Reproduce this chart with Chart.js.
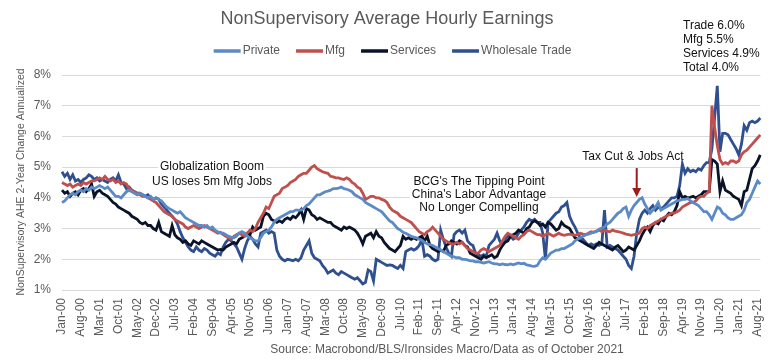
<!DOCTYPE html>
<html>
<head>
<meta charset="utf-8">
<script src="https://cdn.jsdelivr.net/npm/chart.js@4.4.0/dist/chart.umd.min.js"></script>
<style>
  html, body { margin: 0; padding: 0; background: #fff; }
</style>
</head>
<body>
<canvas id="earningsChart" width="772" height="360"></canvas>
<script>
// NonSupervisory AHE, 2-year change annualized (%), monthly Jan-00 .. Sep-21

const monthNames = ['Jan', 'Feb', 'Mar', 'Apr', 'May', 'Jun', 'Jul', 'Aug', 'Sep', 'Oct', 'Nov', 'Dec'];
const monthLabels = [];
for (let yr = 0; yr <= 21; yr++) {
    for (let m = 0; m < 12; m++) {
        if (yr === 21 && m > 8) break;
        monthLabels.push(monthNames[m] + '-' + String(yr).padStart(2, '0'));
    }
}

const seriesNames = ['Private', 'Mfg', 'Services', 'Wholesale Trade'];

const privateVals = [
    3.85, 3.9, 4.0, 4.1, 4.15, 4.1, 4.2, 4.25, 4.2, 4.3, 4.25, 4.35,
    4.3, 4.35, 4.4, 4.35, 4.3, 4.35, 4.25, 4.15, 4.05, 4.05, 4.0, 4.1,
    4.2, 4.25, 4.2, 4.15, 4.1, 4.15, 4.1, 4.05, 4.0, 4.05, 3.95, 4.0,
    3.95, 3.9, 3.8, 3.7, 3.65, 3.6, 3.55, 3.5, 3.55, 3.45, 3.35, 3.3,
    3.25, 3.2, 3.15, 3.1, 3.1, 3.05, 3.1, 3.0, 3.05, 2.95, 2.9, 2.85,
    2.85, 2.8, 2.75, 2.72, 2.7, 2.75, 2.85, 2.9, 2.85, 2.75, 2.7, 2.65,
    2.6, 2.6, 2.7, 2.85, 2.9, 2.95, 3.05, 3.2, 3.3, 3.35, 3.4, 3.45,
    3.5, 3.55, 3.55, 3.6, 3.6, 3.6, 3.65, 3.75, 3.8, 3.9, 4.0, 4.1,
    4.1, 4.15, 4.2, 4.22, 4.25, 4.3, 4.3, 4.32, 4.35, 4.3, 4.28, 4.25,
    4.2, 4.1, 4.05, 4.0, 3.95, 3.85, 3.8, 3.75, 3.7, 3.65, 3.6, 3.55,
    3.45, 3.35, 3.25, 3.2, 3.1, 3.0, 2.95, 2.88, 2.85, 2.8, 2.75, 2.72,
    2.7, 2.65, 2.62, 2.55, 2.5, 2.48, 2.45, 2.4, 2.35, 2.3, 2.25, 2.2,
    2.15, 2.1, 2.08, 2.05, 2.05, 2.0, 2.0, 1.98, 1.95, 1.95, 1.92, 1.92,
    1.9, 1.88, 1.9, 1.92, 1.88, 1.85, 1.85, 1.82, 1.85, 1.83, 1.82, 1.85,
    1.82, 1.85, 1.88, 1.85, 1.87, 1.82, 1.8, 1.78, 1.77, 1.8, 1.95, 2.05,
    2.0, 2.1, 2.2, 2.25, 2.3, 2.3, 2.35, 2.35, 2.4, 2.45, 2.5, 2.6,
    2.65, 2.7, 2.75, 2.8, 2.82, 2.85, 2.88, 2.9, 2.98, 3.02, 3.05, 3.15,
    3.2, 3.3, 3.4, 3.5, 3.55, 3.65, 3.7, 3.4, 3.6, 3.75, 3.85, 3.95,
    4.0, 3.8, 3.65, 3.5, 3.6, 3.7, 3.85, 3.6, 3.65, 3.7, 3.75, 3.8,
    3.85, 3.9, 3.92, 3.95, 3.95, 3.98, 3.9, 3.85, 3.8, 3.75, 3.65, 3.55,
    3.55, 3.45, 3.3, 3.5, 3.7, 3.65, 3.5, 3.45, 3.35, 3.3, 3.3, 3.35,
    3.4, 3.45, 3.6, 3.85, 3.95, 4.15, 4.35, 4.55, 4.45
];

const mfgVals = [
    4.5, 4.45, 4.4, 4.45, 4.35, 4.4, 4.45, 4.4, 4.5, 4.45, 4.5, 4.55,
    4.55, 4.6, 4.65, 4.6, 4.7, 4.6, 4.55, 4.6, 4.5, 4.55, 4.45, 4.5,
    4.45, 4.3, 4.25, 4.2, 4.15, 4.1, 4.05, 4.05, 4.0, 3.95, 3.9, 3.85,
    3.75, 3.65, 3.55, 3.5, 3.45, 3.4, 3.3, 3.25, 3.2, 3.15, 3.05, 3.0,
    3.05, 3.1, 3.05, 3.0, 3.05, 3.1, 3.05, 3.0, 2.95, 2.9, 2.85, 2.88,
    2.8, 2.75, 2.7, 2.65, 2.75, 2.8, 2.85, 2.8, 2.75, 2.85, 2.95, 2.9,
    3.0, 3.2, 3.35, 3.5, 3.7, 3.65, 3.85, 4.05, 4.1, 4.15, 4.3, 4.35,
    4.4, 4.5, 4.55, 4.6, 4.7, 4.75, 4.8, 4.8, 4.9, 5.0, 5.05, 4.95,
    4.9, 4.85, 4.82, 4.8, 4.7, 4.68, 4.65, 4.65, 4.62, 4.6, 4.65, 4.6,
    4.5, 4.45, 4.35, 4.3, 4.15, 3.95, 4.0, 4.05, 4.05, 4.0, 4.0, 3.95,
    3.92, 3.85, 3.7, 3.6, 3.55, 3.5, 3.4, 3.35, 3.3, 3.25, 3.2, 3.1,
    3.0, 2.9, 2.85, 2.8, 2.9, 2.95, 3.05, 2.95, 2.85, 2.75, 2.65, 2.6,
    2.55, 2.5, 2.5, 2.55, 2.5, 2.55, 2.45, 2.35, 2.3, 2.25, 2.2, 2.2,
    2.3, 2.35, 2.3, 2.25, 2.3, 2.35, 2.4, 2.45, 2.6, 2.75, 2.85, 2.8,
    2.75, 2.7, 2.65, 2.75, 2.8, 2.9, 2.95, 2.9, 2.85, 2.8, 2.8, 2.75,
    2.8, 2.85, 2.8, 2.75, 2.8, 2.85, 2.8, 2.78, 2.8, 2.82, 2.8, 2.78,
    2.8, 2.85, 2.82, 2.8, 2.85, 2.9, 2.88, 2.92, 2.95, 2.9, 2.95, 2.92,
    2.9, 2.95, 2.92, 2.9, 2.88, 2.85, 2.82, 2.8, 2.78, 2.8, 2.82, 2.85,
    3.0, 3.05, 3.0, 3.1, 3.15, 3.2, 3.25, 3.3, 3.35, 3.4, 3.45, 3.5,
    3.5, 3.55, 3.6, 3.7, 3.75, 3.8, 3.85, 3.85, 3.9, 4.0, 4.05, 4.05,
    4.15, 4.2, 7.0, 6.3, 5.7, 5.25, 5.1, 5.15, 5.1, 5.2, 5.2, 5.15,
    5.2, 5.4, 5.5, 5.55, 5.65, 5.75, 5.85, 5.95, 6.05
];

const servicesVals = [
    4.25, 4.15, 4.2, 4.05, 4.15, 4.2, 4.1, 4.25, 4.3, 4.2, 4.3, 4.45,
    4.05, 4.2, 4.25, 4.15, 4.1, 4.05, 3.95, 3.85, 3.8, 3.7, 3.65, 3.6,
    3.55, 3.5, 3.4, 3.35, 3.3, 3.2, 3.15, 3.2, 3.1, 3.1, 3.0, 2.95,
    3.2, 2.9, 2.85, 2.8, 2.75, 3.1, 2.8, 2.7, 2.65, 2.55, 2.6, 2.5,
    2.45, 2.6, 2.55, 2.5, 2.6, 2.55, 2.5, 2.45, 2.4, 2.35, 2.3, 2.32,
    2.3, 2.4, 2.45, 2.5, 2.55, 2.5, 2.65, 2.7, 2.75, 2.85, 2.8, 3.05,
    2.95, 3.0, 3.05, 3.4, 3.5, 3.45, 3.3, 3.25, 3.2, 3.25, 3.2, 3.3,
    3.35, 3.3, 3.4, 3.35, 3.45, 3.6, 3.3, 3.65, 3.6, 3.45, 3.4, 3.3,
    3.35, 3.3, 3.25, 3.2, 3.2, 3.1, 3.05, 3.0, 2.95, 3.05, 3.0, 3.05,
    3.0, 2.95, 2.85, 2.7, 2.5, 2.75, 2.8, 2.85, 2.7, 2.9, 2.75, 2.7,
    2.55, 2.45, 2.35, 2.3, 2.25, 2.35, 2.45, 2.75, 2.65, 2.7, 2.65, 2.7,
    2.65, 2.7, 2.75, 2.6, 2.75, 2.45, 2.35, 2.3, 2.25, 2.3, 2.25, 2.45,
    2.5, 2.6, 2.55, 2.5, 2.6, 2.55, 2.45, 2.4, 2.2, 2.15, 2.1, 2.05,
    2.0, 2.1, 2.05, 2.1, 2.15, 2.05, 2.1, 2.3, 2.45, 2.55, 2.6, 2.75,
    2.8, 2.85, 2.95, 2.9, 2.85, 3.0, 3.05, 3.2, 3.25, 3.2, 3.1, 3.15,
    3.05, 3.2, 3.15, 3.05, 2.95, 3.0, 3.2, 3.1, 3.05, 3.0, 2.85, 2.7,
    2.65, 2.6, 2.55, 2.5, 2.45, 2.4, 2.35, 2.45, 2.55, 2.5, 2.45, 2.4,
    2.35, 2.3, 2.4, 2.45, 2.35, 2.25, 2.3, 2.4, 2.35, 2.3, 2.45, 2.6,
    2.8, 2.95, 3.05, 2.9, 3.1, 3.2, 3.15, 3.3, 3.25, 3.4, 3.5, 3.45,
    3.55, 3.75, 4.2, 4.0, 4.05, 4.0, 4.02, 4.05, 4.0, 4.05, 4.1, 4.2,
    4.2, 4.2, 5.25, 5.2, 5.1, 4.2, 4.55, 4.25, 4.2, 4.15, 4.05, 4.0,
    3.95, 3.75, 4.2, 4.25, 4.6, 4.95, 5.05, 5.2, 5.4
];

const wholesaleVals = [
    4.85, 4.7, 4.8, 4.6, 4.75, 4.55, 4.6, 4.5, 4.6, 4.65, 4.75, 4.7,
    4.6, 4.65, 4.55, 4.6, 4.55, 4.5, 4.6, 4.65, 4.55, 4.75, 4.5, 4.45,
    4.3, 4.35, 4.25, 4.2, 4.15, 4.15, 4.1, 4.05, 4.1, 4.0, 3.95, 4.0,
    3.95, 3.8, 3.7, 3.6, 3.5, 3.4, 3.3, 3.15, 2.9, 2.7, 2.55, 2.4,
    2.3, 2.25, 2.4, 2.3, 2.25, 2.35, 2.3, 2.2, 2.15, 2.1, 2.2, 2.15,
    2.4, 2.55, 2.65, 2.6, 2.5, 2.4, 2.2, 2.0, 2.35, 2.6, 2.75, 2.65,
    2.5, 2.4, 2.85, 2.9, 2.95, 2.85, 2.9, 2.85, 2.3, 2.1, 2.0, 1.95,
    2.0, 1.98, 1.95, 2.0, 1.95, 2.05, 2.3, 2.45, 2.6, 2.2, 2.05, 2.0,
    1.95, 1.8, 1.7, 1.55, 1.6, 1.65, 1.55, 1.5, 1.6, 1.55, 1.5, 1.45,
    1.4, 1.35, 1.4, 1.3, 1.2, 1.25, 1.65, 1.6, 1.3, 2.0, 1.95, 1.9,
    1.85, 1.8, 1.82, 1.8, 1.75, 1.7, 1.8, 1.7, 2.25, 2.3, 2.35, 2.3,
    2.35, 2.45, 2.65, 2.1, 2.15, 2.1, 2.0, 1.95, 2.0, 2.95, 2.65, 2.4,
    2.2, 2.1, 2.8, 2.9, 2.95, 2.85, 2.95, 2.6, 2.5, 2.45, 2.2, 2.15,
    2.1, 2.15, 2.1, 2.45, 2.55, 2.65, 2.85, 2.6, 2.45, 2.6, 2.8, 2.75,
    2.65, 2.7, 2.85, 2.95, 3.05, 3.2, 3.3, 3.25, 3.3, 3.2, 3.2, 2.85,
    2.0, 3.2, 3.3, 3.4, 3.5, 3.55, 3.7, 3.75, 3.85, 3.4, 3.2, 3.05,
    2.85, 2.7, 2.65, 2.55, 2.45, 2.5, 2.45, 2.5, 2.45, 2.5, 3.6, 2.4,
    2.45, 2.4, 2.35, 2.3, 2.2, 2.1, 2.0, 1.8, 1.7, 2.1, 2.85, 3.3,
    3.5, 3.6, 3.5, 3.65, 3.75, 3.6, 3.7, 3.65, 3.7, 3.8, 3.9, 4.0,
    4.0, 4.05, 4.4, 5.1, 4.8, 4.95, 4.85, 4.9, 4.85, 4.95, 4.9, 5.05,
    5.15, 5.15, 5.6, 6.6, 7.65, 5.5, 6.1, 6.1, 6.05, 5.9, 5.75, 5.6,
    5.4, 5.75, 6.35, 6.2, 6.45, 6.5, 6.45, 6.5, 6.6
];

const seriesColors = ['#5b8ac6', '#c0504d', '#0b1328', '#2f4f8f'];
const yTicks = [1, 2, 3, 4, 5, 6, 7, 8];

const FONT = '"Liberation Sans", Arial, sans-serif';
const GREY = '#595959';

function drawText(ctx, str, x, y, size, color, align) {
    ctx.font = size + 'px ' + FONT;
    ctx.fillStyle = color;
    ctx.textAlign = align || 'center';
    ctx.textBaseline = 'middle';
    ctx.fillText(str, x, y);
}

// boxed note with white background (hides the gridlines behind it)
function drawNote(ctx, lines, cx, ys) {
    ctx.font = '12px ' + FONT;
    lines.forEach(function(s, k) {
        const w = ctx.measureText(s).width;
        ctx.fillStyle = '#fff';
        ctx.fillRect(cx - w / 2 - 2, ys[k] - 7, w + 4, 14);
    });
    lines.forEach(function(s, k) {
        drawText(ctx, s, cx, ys[k], 12, '#111');
    });
}

const decorPlugin = {
    id: 'decor',
    beforeDatasetsDraw(chart) {
        const ctx = chart.ctx;
        ctx.save();
        drawNote(ctx, ['Globalization Boom', 'US loses 5m Mfg Jobs'], 212, [167, 182]);
        drawNote(ctx, ["BCG's The Tipping Point", "China's Labor Advantage", 'No Longer Compelling'], 479, [182, 195, 208]);
        drawText(ctx, 'Tax Cut & Jobs Act', 633, 157, 12, '#111');
        ctx.restore();
    },
    afterDatasetsDraw(chart) {
        const ctx = chart.ctx;
        const xs = chart.scales.x, ys = chart.scales.y;
        const ax = xs.getPixelForValue(monthLabels.indexOf('Nov-17'));
        const top = ys.getPixelForValue(4.97), tip = ys.getPixelForValue(4.03);
        ctx.save();
        ctx.strokeStyle = '#9c1c1c';
        ctx.fillStyle = '#9c1c1c';
        ctx.lineWidth = 2;
        ctx.beginPath();
        ctx.moveTo(ax, top);
        ctx.lineTo(ax, tip - 7);
        ctx.stroke();
        ctx.beginPath();
        ctx.moveTo(ax - 4.5, tip - 9);
        ctx.lineTo(ax + 4.5, tip - 9);
        ctx.lineTo(ax, tip);
        ctx.closePath();
        ctx.fill();
        ctx.restore();
    },
    afterDraw(chart) {
        const ctx = chart.ctx;
        ctx.save();
        drawText(ctx, 'NonSupervisory Average Hourly Earnings', 387, 19, 18, GREY);

        // legend
        ctx.font = '12px ' + FONT;
        const gap = 15, lineW = 27;
        let total = 0;
        seriesNames.forEach(function(n) { total += lineW + 3 + ctx.measureText(n).width; });
        total += gap * (seriesNames.length - 1);
        let lx = 393 - total / 2;
        seriesNames.forEach(function(n, k) {
            ctx.strokeStyle = seriesColors[k];
            ctx.lineWidth = 3.5;
            ctx.beginPath();
            ctx.moveTo(lx, 51);
            ctx.lineTo(lx + lineW, 51);
            ctx.stroke();
            drawText(ctx, n, lx + lineW + 2, 51, 12, GREY, 'left');
            lx += lineW + 3 + ctx.measureText(n).width + gap;
        });

        // y axis title
        ctx.save();
        ctx.translate(21, 182);
        ctx.rotate(-Math.PI / 2);
        drawText(ctx, 'NonSupervisory AHE 2-Year Change Annualized', 0, 0, 10.5, GREY);
        ctx.restore();

        drawText(ctx, 'Source: Macrobond/BLS/Ironsides Macro/Data as of October 2021', 447, 350, 12, GREY);

        ['Trade 6.0%', 'Mfg 5.5%', 'Services 4.9%', 'Total 4.0%'].forEach(function(s, k) {
            drawText(ctx, s, 683, 26 + k * 14, 12, '#111', 'left');
        });
        ctx.restore();
    }
};

const allVals = [privateVals, mfgVals, servicesVals, wholesaleVals];

const ctx = document.getElementById('earningsChart').getContext('2d');
const earningsChart = new Chart(ctx, {
    type: 'line',
    data: {
        labels: monthLabels,
        datasets: seriesNames.map(function(n, k) {
            return {
                label: n,
                data: allVals[k],
                borderColor: seriesColors[k],
                backgroundColor: seriesColors[k],
                borderWidth: 2.8,
                pointRadius: 0,
                tension: 0,
                fill: false
            };
        })
    },
    options: {
        responsive: false,
        animation: false,
        devicePixelRatio: 1,
        layout: {
            padding: { top: 75, right: 8, left: 0, bottom: 0 }
        },
        plugins: {
            legend: { display: false },
            title: { display: false },
            tooltip: { enabled: false }
        },
        scales: {
            x: {
                grid: { display: false },
                border: { display: false },
                ticks: {
                    autoSkip: false,
                    maxRotation: 90,
                    minRotation: 90,
                    padding: 0,
                    color: GREY,
                    font: { family: FONT, size: 12 },
                    callback: function(value, index) {
                        return index % 7 === 0 ? monthLabels[index] : null;
                    }
                },
                afterFit: function(scale) { scale.height = 70; }
            },
            y: {
                min: 1,
                max: 8,
                border: { display: false },
                grid: { color: '#d9d9d9', drawTicks: false },
                afterBuildTicks: function(scale) {
                    scale.ticks = yTicks.map(function(v) { return { value: v }; });
                },
                ticks: {
                    padding: 11,
                    color: GREY,
                    font: { family: FONT, size: 12 },
                    callback: function(value) { return value + '%'; }
                },
                afterFit: function(scale) { scale.width = 62; }
            }
        }
    },
    plugins: [decorPlugin]
});
</script>
</body>
</html>
